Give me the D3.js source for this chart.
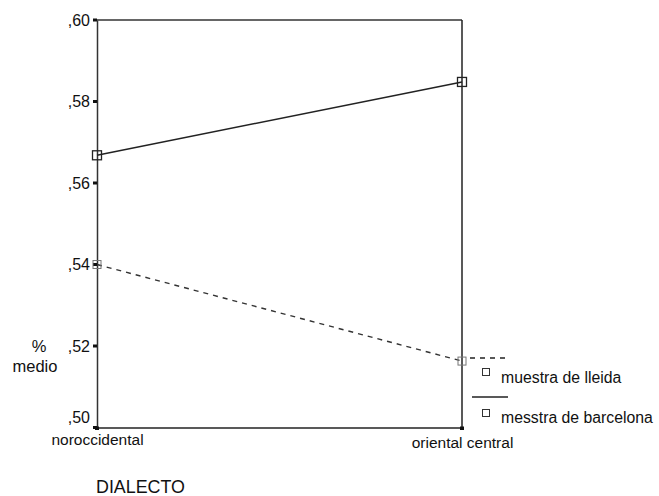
<!DOCTYPE html>
<html>
<head>
<meta charset="utf-8">
<script src="https://cdn.jsdelivr.net/npm/d3@7"></script>
<style>
  body { margin: 0; background: #fff; }
  text { font-family: "Liberation Sans", Arial, sans-serif; fill: #111; }
</style>
</head>
<body>
<svg id="chart" width="659" height="496"></svg>
<script>
const categories = ["noroccidental", "oriental central"];
const lleida = [0.540, 0.5163];
const barcelona = [0.5668, 0.5848];
const yTicks = [0.50, 0.52, 0.54, 0.56, 0.58, 0.60];
const seriesNames = ["muestra de lleida", "messtra de barcelona"];

const svg = d3.select("#chart");
const x = d3.scalePoint().domain(categories).range([97, 462]);
const y = d3.scaleLinear().domain([0.50, 0.60]).range([427.5, 20]);
const fmt = d => d3.format(".2f")(d).replace("0.", ",");

// frame: top and right edges
svg.append("line")
  .attr("x1", x(categories[0])).attr("x2", x(categories[1]))
  .attr("y1", y(0.60)).attr("y2", y(0.60))
  .attr("stroke", "#333").attr("stroke-width", 1.5);
svg.append("line")
  .attr("x1", x(categories[1])).attr("x2", x(categories[1]))
  .attr("y1", y(0.60)).attr("y2", y(0.50))
  .attr("stroke", "#222").attr("stroke-width", 1.5);

// y axis (the bottom label sits raised above its tick, as in the original)
const yAxis = svg.append("g")
  .attr("transform", `translate(${x(categories[0])},0)`)
  .call(d3.axisLeft(y).tickValues(yTicks).tickFormat(fmt).tickSize(0).tickPadding(7));
yAxis.select(".domain").attr("stroke", "#333").attr("stroke-width", 1.5);
yAxis.selectAll("text")
  .attr("font-size", 16).attr("font-family", "Liberation Sans, Arial, sans-serif")
  .attr("fill", "#111").attr("dy", d => d === 0.50 ? "-0.3em" : "0.32em");

yTicks.forEach(t => {
  svg.append("rect")
    .attr("x", x(categories[0]) - 4).attr("y", y(t) - 1.5)
    .attr("width", 4).attr("height", 3).attr("fill", "#111");
});

// x axis
const xAxis = svg.append("g")
  .attr("transform", `translate(0,${y(0.50)})`)
  .call(d3.axisBottom(x).tickSize(0).tickPadding(6));
xAxis.select(".domain").attr("stroke", "#222").attr("stroke-width", 1.5);
xAxis.selectAll("text")
  .attr("font-size", 15.5).attr("font-family", "Liberation Sans, Arial, sans-serif")
  .attr("fill", "#111")
  .attr("dy", (d, i) => i === 0 ? "0.71em" : "0.95em");

categories.forEach(c => {
  svg.append("rect")
    .attr("x", x(c) - 2).attr("y", y(0.50) - 1)
    .attr("width", 4).attr("height", 3.5).attr("fill", "#111");
});

// axis titles
svg.append("text").attr("x", 39).attr("y", 352).attr("text-anchor", "middle")
  .attr("font-size", 16.5).text("%");
svg.append("text").attr("x", 35).attr("y", 372).attr("text-anchor", "middle")
  .attr("font-size", 16.5).text("medio");
svg.append("text").attr("x", 96).attr("y", 493)
  .attr("font-size", 17.5).attr("textLength", 89).attr("lengthAdjust", "spacingAndGlyphs")
  .text("DIALECTO");

// series
const line = d3.line().x((d, i) => x(categories[i])).y(d => y(d));

svg.append("path").datum(lleida).attr("d", line)
  .attr("fill", "none").attr("stroke", "#333").attr("stroke-width", 1.4)
  .attr("stroke-dasharray", "5,5");
svg.append("path").datum(barcelona).attr("d", line)
  .attr("fill", "none").attr("stroke", "#222").attr("stroke-width", 1.5);

svg.selectAll(".m-lleida").data(lleida).enter().append("rect")
  .attr("x", (d, i) => x(categories[i]) - 4).attr("y", d => y(d) - 4)
  .attr("width", 8).attr("height", 8)
  .attr("fill", "none").attr("stroke", "#777").attr("stroke-width", 1);
svg.selectAll(".m-barcelona").data(barcelona).enter().append("rect")
  .attr("x", (d, i) => x(categories[i]) - 4.5).attr("y", d => y(d) - 4.5)
  .attr("width", 9).attr("height", 9)
  .attr("fill", "none").attr("stroke", "#222").attr("stroke-width", 1.3);

// legend
const legend = svg.append("g");
const legRows = [
  { name: seriesNames[0], dash: "5,5", ly: 358, sy: 372, ty: 383, x1: 470 },
  { name: seriesNames[1], dash: null, ly: 397, sy: 413, ty: 423, x1: 472 }
];
legRows.forEach(r => {
  legend.append("line")
    .attr("x1", r.x1).attr("x2", 508).attr("y1", r.ly).attr("y2", r.ly)
    .attr("stroke", "#222").attr("stroke-width", 1.5)
    .attr("stroke-dasharray", r.dash);
  legend.append("rect")
    .attr("x", 482.5).attr("y", r.sy - 3.5).attr("width", 7).attr("height", 7)
    .attr("fill", "none").attr("stroke", "#333").attr("stroke-width", 1);
  legend.append("text")
    .attr("x", 501).attr("y", r.ty).attr("font-size", 15.8).text(r.name);
});
</script>
</body>
</html>
